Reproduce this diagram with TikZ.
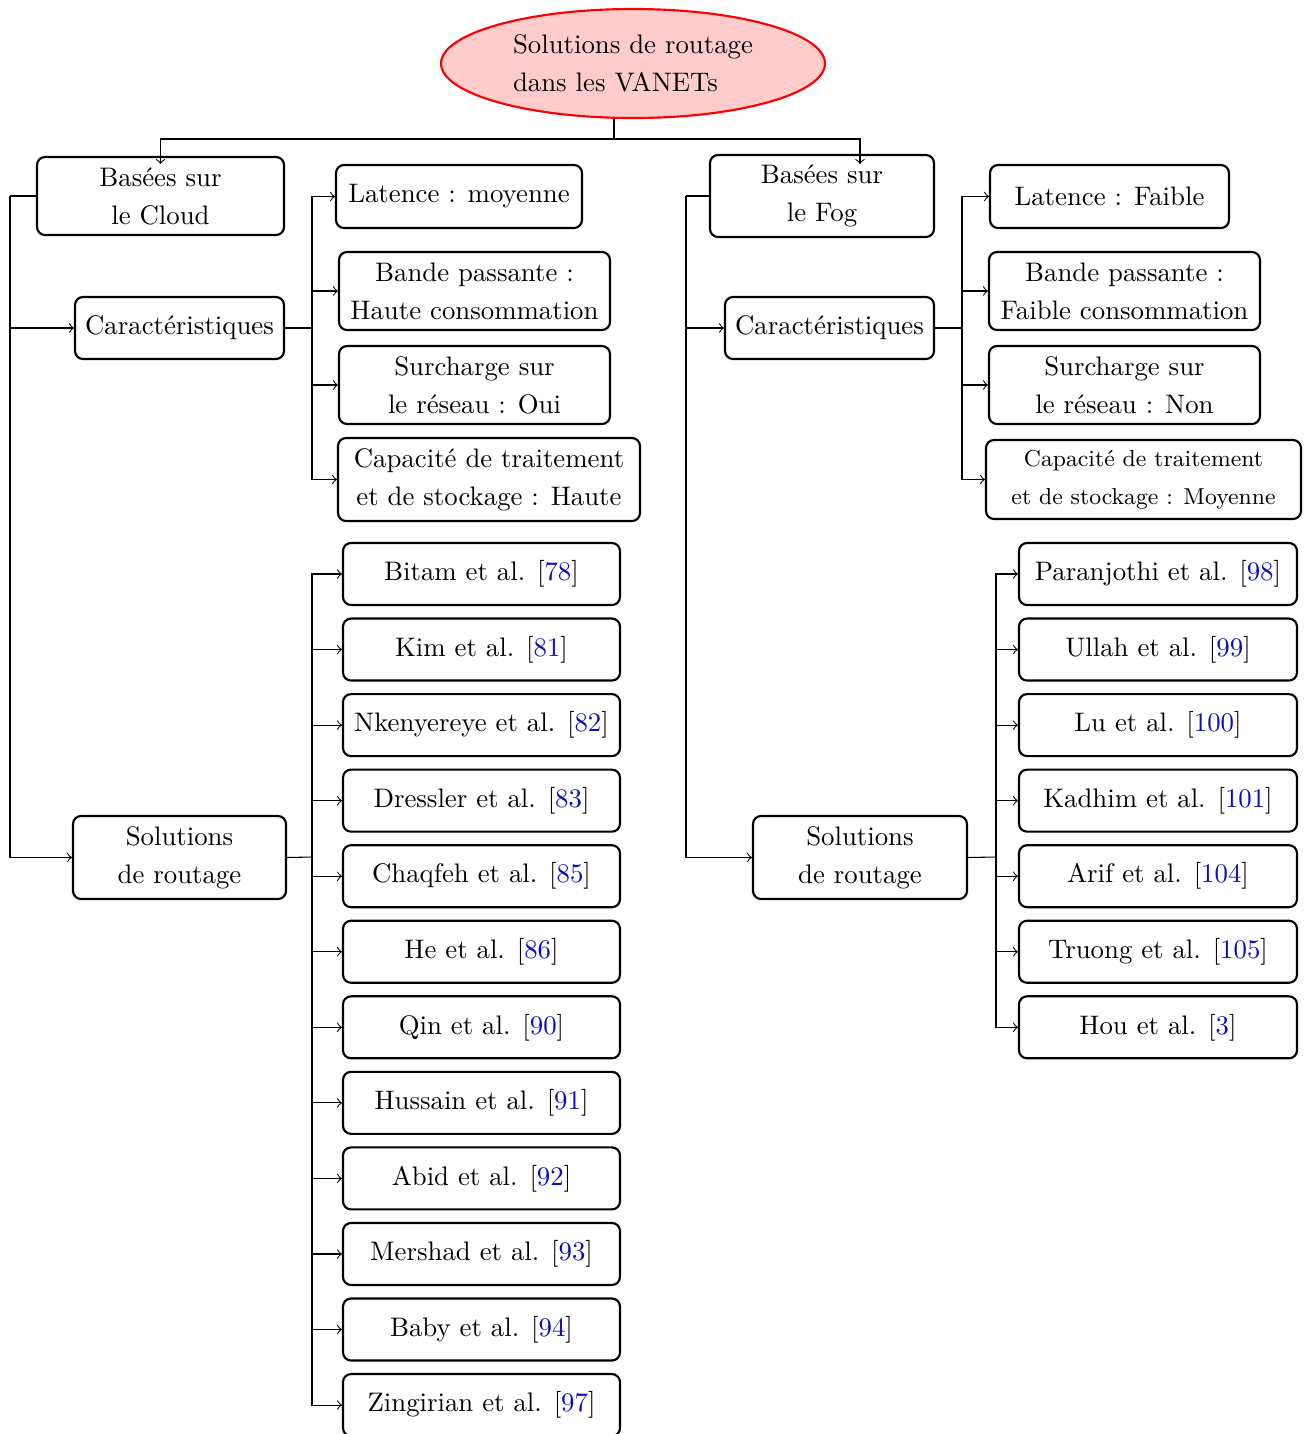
\documentclass[tikz,border=0pt]{standalone}
\usetikzlibrary{shapes.geometric}
\definecolor{citeblue}{rgb}{0.05,0.05,0.72}
\definecolor{rootfill}{rgb}{1,0.8,0.8}
\newcommand\refnum[1]{[\textcolor{citeblue}{#1}]}
\begin{document}
\begin{tikzpicture}[x=0.3731pt, y=-0.3731pt,
  box/.style 2 args={draw, line width=0.8pt, rounded corners=3pt, align=center,
    minimum width=#1*0.3731pt, minimum height=#2*0.3731pt, inner sep=0pt,
    font=\fontsize{10}{14.2}\selectfont},
  refbox/.style={box={277}{62}},
  link/.style={->, line width=0.4pt},
  trunk/.style={line width=0.4pt}
]
\useasboundingbox (0,0) rectangle (1310,1434);

% root
\node[ellipse, draw=red, line width=0.8pt, fill=rootfill, align=left, inner sep=0pt,
  minimum width=384*0.3731pt, minimum height=109*0.3731pt,
  font=\fontsize{10}{14.2}\selectfont] (root) at (633,63.5)
  {Solutions de routage\\dans les VANETs};

% cloud branch
\node[box={247}{78}] (cloud) at (160.5,196) {Basées sur\\le Cloud};
\node[box={209}{62}] (carc) at (179.5,328) {Caractéristiques};
\node[box={213}{83}] (solc) at (179.5,857.5) {Solutions\\de routage};

\node[box={246}{63}] (lat1) at (459,196.5) {Latence : moyenne};
\node[box={271}{78}] (bw1) at (474.5,291) {Bande passante :\\Haute consommation};
\node[box={271}{78}] (ov1) at (474.5,385) {Surcharge sur\\le réseau : Oui};
\node[box={302}{83}] (cap1) at (489,479.5) {Capacité de traitement\\et de stockage : Haute};

\foreach \t [count=\i from 0] in {Bitam et al. \refnum{78}, Kim et al. \refnum{81},
    Nkenyereye et al. \refnum{82}, Dressler et al. \refnum{83}, Chaqfeh et al. \refnum{85},
    He et al. \refnum{86}, Qin et al. \refnum{90}, Hussain et al. \refnum{91},
    Abid et al. \refnum{92}, Mershad et al. \refnum{93}, Baby et al. \refnum{94},
    Zingirian et al. \refnum{97}}
  \node[refbox] (rc\i) at (481.5,574+75.55*\i) {\t};

% fog branch
\node[box={224}{82}] (fog) at (822,196) {Basées sur\\le Fog};
\node[box={209}{62}] (carf) at (829.5,328) {Caractéristiques};
\node[box={214}{83}] (solf) at (860,857.5) {Solutions\\de routage};

\node[box={239}{63}] (lat2) at (1109.5,196.5) {Latence : Faible};
\node[box={271}{78}] (bw2) at (1124.5,291) {Bande passante :\\Faible consommation};
\node[box={271}{78}] (ov2) at (1124.5,385) {Surcharge sur\\le réseau : Non};
\node[box={315}{79}, font=\fontsize{8.6}{14.2}\selectfont] (cap2) at (1143.5,479.5)
  {Capacité de traitement\\et de stockage : Moyenne};

\foreach \t [count=\i from 0] in {Paranjothi et al. \refnum{98}, Ullah et al. \refnum{99},
    Lu et al. \refnum{100}, Kadhim et al. \refnum{101}, Arif et al. \refnum{104},
    Truong et al. \refnum{105}, Hou et al. \refnum{3}}
  \node[box={278}{62}] (rf\i) at (1158,574+75.55*\i) {\t};

% junction points
\coordinate (split) at (614,139);
\coordinate (lt) at (10,196);
\coordinate (ct) at (312,328);
\coordinate (st) at (312,857);
\coordinate (rt) at (686,196);
\coordinate (cf) at (962,328);
\coordinate (sf) at (996,857);

% root to the two families
\draw[trunk] (split |- root.south) -- (split);
\draw[link] (split) -| ([yshift=-8*0.3731pt]cloud.north);
\draw[link] (split) -| ([xshift=38*0.3731pt, yshift=-10*0.3731pt]fog.north);

% cloud connectors
\draw[trunk] (cloud.west) -- (lt);
\draw[link] (lt) |- (carc.west);
\draw[link] (lt) |- (solc.west);
\draw[trunk] (carc.east) -- (ct);
\foreach \n in {lat1, bw1, ov1, cap1} \draw[link] (ct) |- (\n.west);
\draw[trunk] (solc.east) -- (st);
\foreach \i in {0,...,11} \draw[link] (st) |- (rc\i.west);

% fog connectors
\draw[trunk] (fog.west) -- (rt);
\draw[link] (rt) |- (carf.west);
\draw[link] (rt) |- (solf.west);
\draw[trunk] (carf.east) -- (cf);
\foreach \n in {lat2, bw2, ov2, cap2} \draw[link] (cf) |- (\n.west);
\draw[trunk] (solf.east) -- (sf);
\foreach \i in {0,...,6} \draw[link] (sf) |- (rf\i.west);
\end{tikzpicture}
\end{document}
